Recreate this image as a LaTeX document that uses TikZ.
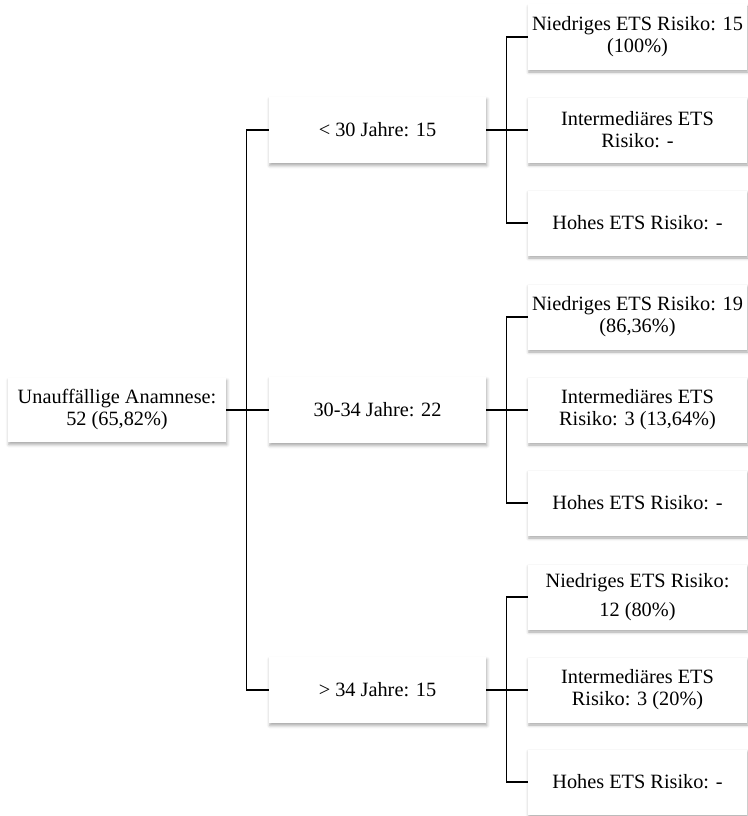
\documentclass[tikz,border=0pt]{standalone}
\usepackage{fontspec}
\setmainfont{Liberation Serif}
\usetikzlibrary{shadows.blur}
\begin{document}
\begin{tikzpicture}[x=1pt,y=-1pt,
  box/.style={fill=white, draw=none, align=center, inner sep=0pt,
    font=\fontsize{20.3}{22}\selectfont,
    blur shadow={shadow xshift=0.8pt, shadow yshift=-2.5pt, shadow blur radius=3pt, shadow opacity=35}},
  rootbox/.style={box, minimum width=218pt, minimum height=64pt},
  agebox/.style={box, minimum width=217pt, minimum height=66pt},
  riskbox/.style={box, minimum width=219pt, minimum height=65pt},
  link/.style={draw=black, line width=1.3pt}]
\useasboundingbox (0,0) rectangle (747,816);

% root
\node[rootbox] (root) at (117,410) {Unauffällige Anamnese:\\52 (65,82\%)};

% age groups
\node[agebox] (a1) at (377.5,130) {< 30 Jahre: 15};
\node[agebox] (a2) at (377.5,410) {30-34 Jahre: 22};
\node[agebox] (a3) at (377.5,690) {> 34 Jahre: 15};

% risk boxes
\node[riskbox] (r11) at (637.5,37)  {Niedriges ETS Risiko: 15\\(100\%)};
\node[riskbox] (r12) at (637.5,130) {Intermediäres ETS\\Risiko: -};
\node[riskbox] (r13) at (637.5,223) {Hohes ETS Risiko: -};
\node[riskbox] (r21) at (637.5,317) {Niedriges ETS Risiko: 19\\(86,36\%)};
\node[riskbox] (r22) at (637.5,410) {Intermediäres ETS\\Risiko: 3 (13,64\%)};
\node[riskbox] (r23) at (637.5,503) {Hohes ETS Risiko: -};
\node[riskbox] (r31) at (637.5,597) {Niedriges ETS Risiko:\\[7pt]12 (80\%)};
\node[riskbox] (r32) at (637.5,690) {Intermediäres ETS\\Risiko: 3 (20\%)};
\node[riskbox] (r33) at (637.5,782) {Hohes ETS Risiko: -};

% connectors: root to age groups
\draw[link] (root.east) -- (a2.west);
\draw[link] (a1.west) -- ++(-22,0) |- (a3.west);

% connectors: age groups to risk boxes
\foreach \a/\r in {a1/r1, a2/r2, a3/r3}{
  \draw[link] (\a.east) -- (\r2.west);
  \draw[link] (\r1.west) -- ++(-21,0) |- (\r3.west);
}
\end{tikzpicture}
\end{document}
